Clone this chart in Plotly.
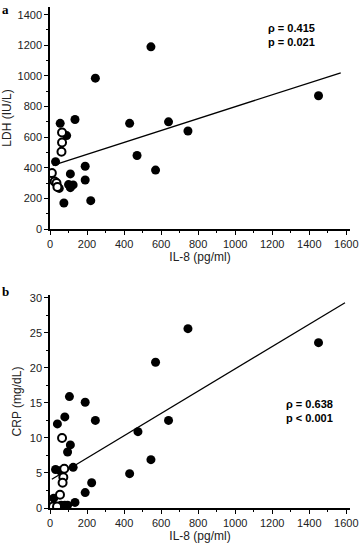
import plotly.graph_objects as go

# Panel a: LDH vs IL-8
a_filled_x = [55, 135, 245, 545, 430, 640, 470, 570, 30, 90, 110, 100, 110, 125, 50, 190, 190, 75, 220, 1450, 745]
a_filled_y = [690, 715, 985, 1190, 690, 700, 480, 385, 440, 610, 360, 290, 270, 288, 265, 410, 320, 170, 185, 870, 640]
a_open_x = [65, 65, 62, 10, 25, 35, 40]
a_open_y = [630, 565, 505, 365, 310, 300, 275]
a_line_x = [15, 1570]
a_line_y = [416, 1020]

# Panel b: CRP vs IL-8
b_filled_x = [570, 640, 475, 545, 430, 245, 190, 105, 80, 40, 110, 95, 30, 55, 125, 225, 190, 135, 20, 60, 80, 95, 745, 1450]
b_filled_y = [20.8, 12.5, 10.9, 6.9, 4.9, 12.5, 15.1, 15.9, 13.0, 12.0, 9.0, 8.0, 5.5, 5.3, 5.8, 3.6, 2.2, 0.8, 1.4, 0.4, 0.4, 0.4, 25.6, 23.6]
b_open_x = [65, 77, 72, 68, 54, 16, 38]
b_open_y = [10.0, 5.6, 4.4, 3.6, 1.9, 0.2, 0.2]
b_line_x = [10, 1593]
b_line_y = [4.1, 29.3]

x_ticks = [0, 200, 400, 600, 800, 1000, 1200, 1400, 1600]
x_labels = ["0", "200", "400", "600", "800", "1000", "1200", "1400", "1600"]

font = "Liberation Sans, Arial, sans-serif"
fig = go.Figure()

def add_panel(fx, fy, ox, oy, lx, ly, xa, ya):
    fig.add_trace(go.Scatter(x=lx, y=ly, mode="lines", line=dict(color="black", width=1.3),
                             xaxis=xa, yaxis=ya, showlegend=False, hoverinfo="skip"))
    fig.add_trace(go.Scatter(x=fx, y=fy, mode="markers",
                             marker=dict(color="black", size=9, line=dict(width=0)),
                             xaxis=xa, yaxis=ya, showlegend=False))
    fig.add_trace(go.Scatter(x=ox, y=oy, mode="markers",
                             marker=dict(color="white", size=8, line=dict(color="black", width=2)),
                             xaxis=xa, yaxis=ya, showlegend=False))

add_panel(a_filled_x, a_filled_y, a_open_x, a_open_y, a_line_x, a_line_y, "x", "y")
add_panel(b_filled_x, b_filled_y, b_open_x, b_open_y, b_line_x, b_line_y, "x2", "y2")

xdom = [50/360, 350/360]
ax_common = dict(showline=True, linecolor="black", linewidth=1.5, ticks="outside", ticklen=4,
                 tickcolor="black", tickwidth=1, showgrid=False, zeroline=False, automargin=False,
                 tickfont=dict(family=font, size=11, color="#222"),
                 title_font=dict(family=font, size=12, color="#222"))
minor = dict(ticks="outside", ticklen=2, tickcolor="black")

fig.update_layout(
    width=360, height=549, margin=dict(l=0, r=0, t=0, b=0),
    plot_bgcolor="white", paper_bgcolor="white",
    xaxis=dict(domain=xdom, range=[0, 1620], tickvals=x_ticks, ticktext=x_labels,
               minor=dict(dtick=100, **minor),
               anchor="y", title=dict(text="IL-8 (pg/ml)", standoff=4), **ax_common),
    yaxis=dict(domain=[1-229/549, 1-7/549], range=[0, 1450], dtick=200,
               minor=dict(dtick=100, **minor),
               anchor="x", title=dict(text="LDH (IU/L)", standoff=6), **ax_common),
    xaxis2=dict(domain=xdom, range=[0, 1620], tickvals=x_ticks, ticktext=x_labels,
                minor=dict(dtick=100, **minor),
                anchor="y2", title=dict(text="IL-8 (pg/ml)", standoff=2), **ax_common),
    yaxis2=dict(domain=[1-508/549, 1-295/549], range=[0, 30.4], dtick=5,
                minor=dict(dtick=2.5, **minor),
                anchor="x2", title=dict(text="CRP (mg/dL)", standoff=6), **ax_common),
)

fig.add_annotation(x=0, y=1, xref="paper", yref="paper", xanchor="left", yanchor="top",
                   text="<b>a</b>", showarrow=False,
                   font=dict(family="Liberation Serif, Times New Roman, serif", size=13, color="black"))
fig.add_annotation(x=0, y=1-282/549, xref="paper", yref="paper", xanchor="left", yanchor="top",
                   text="<b>b</b>", showarrow=False,
                   font=dict(family="Liberation Serif, Times New Roman, serif", size=13, color="black"))
fig.add_annotation(x=266/360, y=1-20/549, xref="paper", yref="paper", xanchor="left", yanchor="top",
                   text="<b>ρ = 0.415<br>p = 0.021</b>", showarrow=False, align="left",
                   font=dict(family=font, size=11, color="black"))
fig.add_annotation(x=284/360, y=1-396/549, xref="paper", yref="paper", xanchor="left", yanchor="top",
                   text="<b>ρ = 0.638<br>p < 0.001</b>", showarrow=False, align="left",
                   font=dict(family=font, size=11, color="black"))

fig.write_html("out.html", config={"displayModeBar": False},
               post_script="document.body.style.margin='0';")
